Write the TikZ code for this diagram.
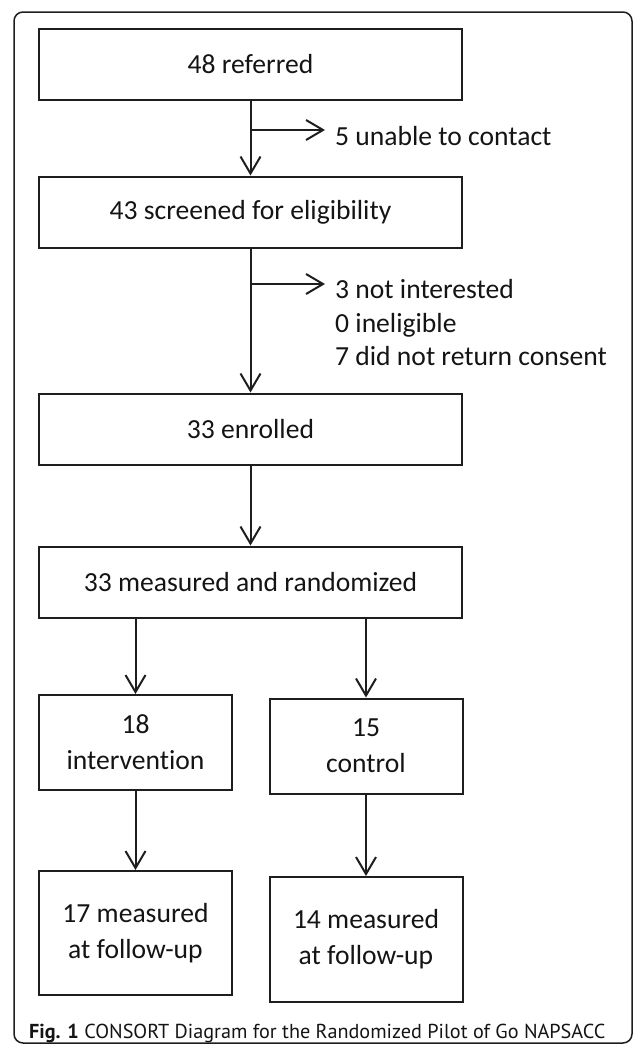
\documentclass[tikz,border=0pt]{standalone}
\usepackage{fontspec}
\setmainfont{Carlito}[Ligatures=NoCommon]
\newfontfamily\capfont{PT Sans}
\definecolor{lineA}{RGB}{30, 30, 30}
\definecolor{textA}{RGB}{20, 20, 20}
\usetikzlibrary{arrows.meta}

\begin{document}
\begin{tikzpicture}[x=1pt, y=-1pt,
	box/.style={draw=lineA, line width=2pt, inner sep=0pt, align=center, text=textA,
		font=\fontsize{27.6}{36}\selectfont},
	wide/.style={box, minimum width=423pt, minimum height=71pt},
	half/.style={box, minimum width=193pt},
	loss/.style={anchor=west, inner xsep=10pt, inner ysep=0pt, align=left, text=textA,
		font=\fontsize{27.6}{33.5}\selectfont},
	flow/.style={draw=lineA, line width=2pt, -{Straight Barb[length=17pt, width=20pt]}}]

\useasboundingbox (0,0) rectangle (634,1044);

%%% FRAME
\draw[lineA, line width=1.5pt, rounded corners=9pt] (14,12) rectangle (632,1043);

%%% MAIN COLUMN
\node[wide] (referred) at (250.5,64) {48 referred};
\node[wide] (screened) at (250.5,212) {43 screened for eligibility};
\node[wide] (enrolled) at (250.5,429) {33 enrolled};
\node[wide] (randomized) at (250.5,582) {33 measured and randomized};

%%% ARMS
\node[half, minimum height=95pt] (intervention) at (135.5,742.5) {18\\intervention};
\node[half, minimum height=95pt] (control) at (366,746) {15\\control};
\node[half, minimum height=124pt] (followA) at (135.5,933) {17 measured\\at follow-up};
\node[half, minimum height=125pt] (followB) at (366,939.5) {14 measured\\at follow-up};

%%% LOSSES
\coordinate (split1) at (250.5,130);
\coordinate (split2) at (250.5,284);
\node[loss] (contact) at (325,136) {5 unable to contact};
\node[loss] (excluded) at (325,323) {3 not interested\\0 ineligible\\7 did not return consent};

\draw[flow] (referred) -- (screened);
\draw[flow] (split1) -- (split1 -| contact.west);
\draw[flow] (screened) -- (enrolled);
\draw[flow] (split2) -- (split2 -| excluded.west);
\draw[flow] (enrolled) -- (randomized);

\draw[flow] (randomized.south -| intervention) -- (intervention);
\draw[flow] (randomized.south -| control) -- (control);
\draw[flow] (intervention) -- (followA);
\draw[flow] (control) -- (followB);

%%% CAPTION
\node[anchor=base west, inner sep=0pt, text=textA, font=\capfont\fontsize{20.2}{24}\selectfont] (caption) at (29,1038)
	{\textbf{Fig. 1} CONSORT Diagram for the Randomized Pilot of Go NAPSACC};

\end{tikzpicture}
\end{document}
